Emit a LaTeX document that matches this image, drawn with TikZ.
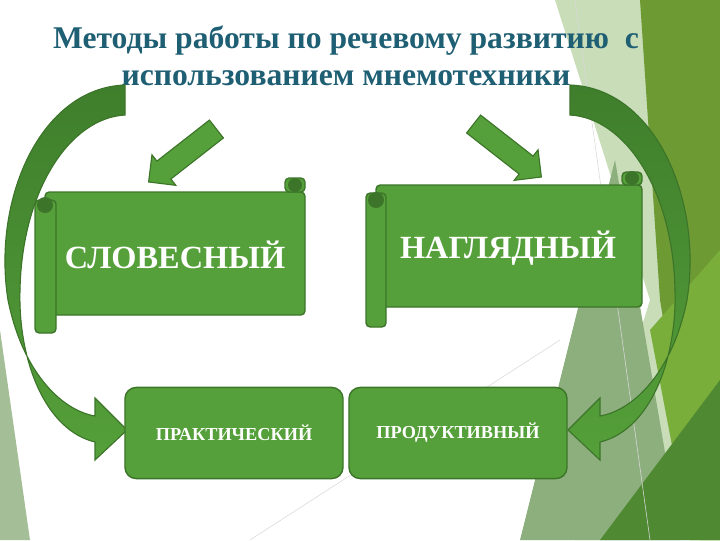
\documentclass[tikz,border=0pt]{standalone}
\usepackage{fontspec}
\setmainfont{Liberation Serif}
\usetikzlibrary{shapes.arrows}
\definecolor{boxgreen}{HTML}{55A03A}
\definecolor{edgegreen}{HTML}{3C7529}
\definecolor{darkarrow}{HTML}{3F7E2C}
\definecolor{titleblue}{HTML}{1F5F74}
\definecolor{palegreen}{HTML}{C9DDB9}
\definecolor{greygreen}{HTML}{8DAF7E}
\definecolor{olivegreen}{HTML}{6E9A34}
\definecolor{brightgreen}{HTML}{7AAE3A}
\definecolor{deepgreen}{HTML}{4F8A33}
\tikzset{
  boxnode/.style = {draw=edgegreen, fill=boxgreen, rounded corners=8pt, line width=1pt, minimum width=5.45cm, minimum height=2.28cm, text=white, font=\bfseries\fontsize{13}{15}\selectfont},
  scrollbody/.style = {draw=edgegreen, fill=boxgreen, line width=1pt, rounded corners=3pt},
  bigarrow/.style = {draw=edgegreen, line width=0.8pt, top color=darkarrow, bottom color=boxgreen},
  smallarrow/.style = {single arrow, draw=edgegreen, fill=boxgreen, line width=0.8pt, minimum height=2.15cm, inner sep=0.27cm, single arrow head extend=0.2cm}
}
\begin{document}
\begin{tikzpicture}[x=0.025cm, y=-0.025cm]
  \useasboundingbox (0,0) rectangle (720,540);
  % background
  \fill[palegreen] (555,0) -- (700,0) -- (720,60) -- (720,540) -- (575,540) -- (650,300) -- cycle;
  \fill[greygreen] (615,160) -- (680,540) -- (520,540) -- cycle;
  \fill[olivegreen] (640,0) -- (720,0) -- (720,540) -- (700,540) -- (660,300) -- cycle;
  \fill[brightgreen] (650,330) -- (720,250) -- (720,540) -- (690,540) -- cycle;
  \fill[deepgreen] (600,540) -- (720,380) -- (720,540) -- cycle;
  \fill[greygreen!80] (0,330) -- (30,540) -- (0,540) -- cycle;
  \draw[white!70!gray] (575,0) -- (650,540);
  \draw[white!70!gray] (250,540) -- (560,340);
  % title
  \node[text=titleblue, font=\bfseries\fontsize{22.5}{26}\selectfont, align=center] (title) at (346,56)
    {Методы работы по речевому развитию\ \ с\\ использованием мнемотехники};
  % curved arrows
  \path[bigarrow] (125,85) .. controls (40,88) and (-8,200) .. (8,300)
    .. controls (22,370) and (60,410) .. (95,416) -- (95,398) -- (127,430) -- (95,460) -- (95,442)
    .. controls (45,430) and (18,360) .. (20,290) .. controls (22,190) and (70,118) .. (125,115) -- cycle;
  \path[bigarrow] (570,85) .. controls (655,88) and (703,200) .. (687,300)
    .. controls (673,370) and (635,410) .. (600,416) -- (600,398) -- (568,430) -- (600,460) -- (600,442)
    .. controls (650,430) and (677,360) .. (675,290) .. controls (673,190) and (625,118) .. (570,115) -- cycle;
  % small arrows
  \node[smallarrow, rotate=-142] (arrowleft) at (187,152) {};
  \node[smallarrow, rotate=-38] (arrowright) at (503,147) {};
  % scrolls
  \path[scrollbody] (45,192) rectangle (305,315);
  \path[scrollbody] (35,200) rectangle (56,333);
  \fill[edgegreen] (45,205) circle (8);
  \path[scrollbody] (285,178) rectangle (305,192);
  \fill[edgegreen] (295,185) circle (7);
  \node[text=white, font=\bfseries\fontsize{23}{26}\selectfont] (verbal) at (175,255) {СЛОВЕСНЫЙ};
  \path[scrollbody] (376,185) rectangle (642,307);
  \path[scrollbody] (366,193) rectangle (386,327);
  \fill[edgegreen] (376,200) circle (8);
  \path[scrollbody] (622,172) rectangle (642,185);
  \fill[edgegreen] (632,178) circle (7);
  \node[text=white, font=\bfseries\fontsize{23}{26}\selectfont] (visual) at (508,248) {НАГЛЯДНЫЙ};
  % bottom boxes
  \node[boxnode] (practical) at (234,433) {ПРАКТИЧЕСКИЙ};
  \node[boxnode] (productive) at (458,433) {ПРОДУКТИВНЫЙ};
\end{tikzpicture}
\end{document}
